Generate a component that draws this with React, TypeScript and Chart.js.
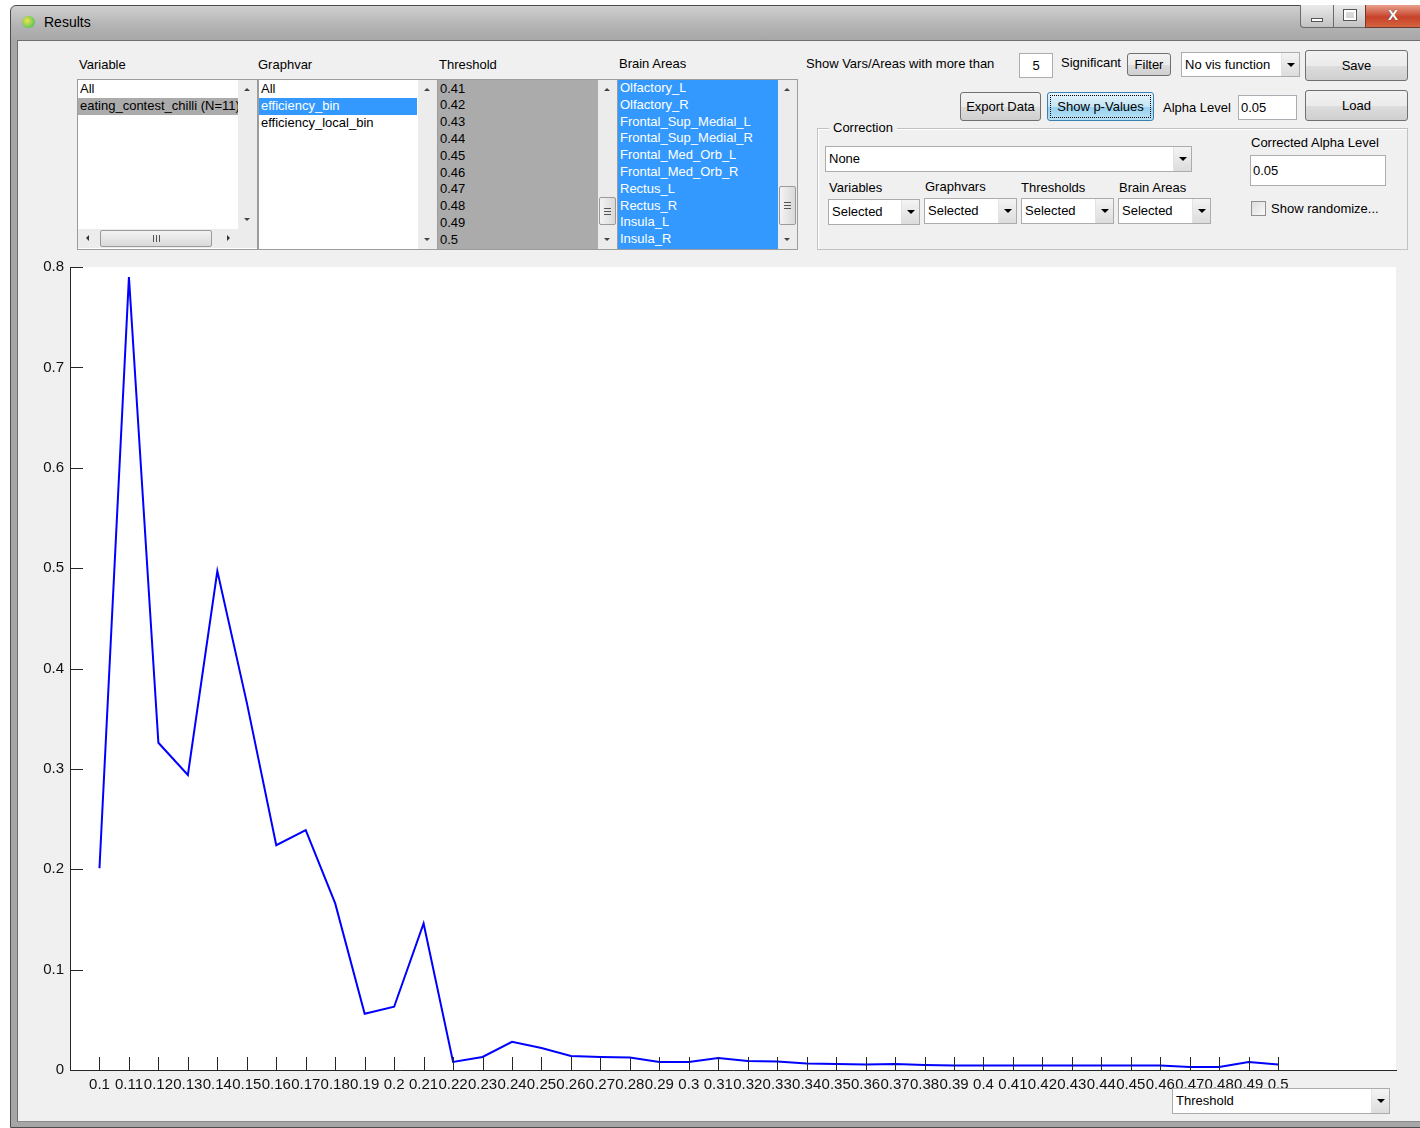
import React, { useEffect, useRef } from "react";
import { Chart, registerables } from "chart.js";

Chart.register(...registerables);

// ---------------- data ----------------
const thresholds = [
  0.1, 0.11, 0.12, 0.13, 0.14, 0.15, 0.16, 0.17, 0.18, 0.19,
  0.2, 0.21, 0.22, 0.23, 0.24, 0.25, 0.26, 0.27, 0.28, 0.29,
  0.3, 0.31, 0.32, 0.33, 0.34, 0.35, 0.36, 0.37, 0.38, 0.39,
  0.4, 0.41, 0.42, 0.43, 0.44, 0.45, 0.46, 0.47, 0.48, 0.49,
  0.5,
];
const xTickLabels = [
  "0.1", "0.11", "0.12", "0.13", "0.14", "0.15", "0.16", "0.17", "0.18", "0.19",
  "0.2", "0.21", "0.22", "0.23", "0.24", "0.25", "0.26", "0.27", "0.28", "0.29",
  "0.3", "0.31", "0.32", "0.33", "0.34", "0.35", "0.36", "0.37", "0.38", "0.39",
  "0.4", "0.41", "0.42", "0.43", "0.44", "0.45", "0.46", "0.47", "0.48", "0.49",
  "0.5",
];
const pValues = [
  0.201, 0.79, 0.326, 0.294, 0.497, 0.366, 0.224, 0.239, 0.166, 0.056,
  0.063, 0.146, 0.008, 0.013, 0.028, 0.022, 0.014, 0.013, 0.0125, 0.008,
  0.008, 0.012, 0.009, 0.0085, 0.0065, 0.006, 0.0055, 0.006, 0.005, 0.0045,
  0.0045, 0.0045, 0.0045, 0.0045, 0.0045, 0.0045, 0.0045, 0.003, 0.003, 0.008,
  0.0055,
];
const yTickValues = [0, 0.1, 0.2, 0.3, 0.4, 0.5, 0.6, 0.7, 0.8];
const yTickLabels = ["0", "0.1", "0.2", "0.3", "0.4", "0.5", "0.6", "0.7", "0.8"];

const variableItems = ["All", "eating_contest_chilli (N=11)"];
const graphvarItems = ["All", "efficiency_bin", "efficiency_local_bin"];
const thresholdItems = ["0.41", "0.42", "0.43", "0.44", "0.45", "0.46", "0.47", "0.48", "0.49", "0.5"];
const brainAreaItems = [
  "Olfactory_L", "Olfactory_R", "Frontal_Sup_Medial_L", "Frontal_Sup_Medial_R",
  "Frontal_Med_Orb_L", "Frontal_Med_Orb_R", "Rectus_L", "Rectus_R", "Insula_L", "Insula_R",
];

// ---------------- ui helpers ----------------
const FONT = "'Liberation Sans', Arial, sans-serif";
const ROW = 16.8;

type BoxProps = { x: number; y: number; w: number; h: number; style?: React.CSSProperties; children?: React.ReactNode };
const Box = ({ x, y, w, h, style, children }: BoxProps) => (
  <div style={{ position: "absolute", left: x, top: y, width: w, height: h, boxSizing: "border-box", ...style }}>{children}</div>
);

const Label = ({ x, cy, text, size = 13, color = "#000" }: { x: number; cy: number; text: string; size?: number; color?: string }) => (
  <div style={{ position: "absolute", left: x, top: cy - 8, height: 16, lineHeight: "16px", fontSize: size, whiteSpace: "nowrap", color }}>{text}</div>
);

const Tri = ({ down = true, color = "#000", size = 4 }: { down?: boolean; color?: string; size?: number }) => (
  <div
    style={{
      width: 0, height: 0,
      borderLeft: `${size}px solid transparent`,
      borderRight: `${size}px solid transparent`,
      ...(down ? { borderTop: `${size}px solid ${color}` } : { borderBottom: `${size}px solid ${color}` }),
    }}
  />
);
const TriH = ({ left = true, color = "#333", size = 4 }: { left?: boolean; color?: string; size?: number }) => (
  <div
    style={{
      width: 0, height: 0,
      borderTop: `${size}px solid transparent`,
      borderBottom: `${size}px solid transparent`,
      ...(left ? { borderRight: `${size}px solid ${color}` } : { borderLeft: `${size}px solid ${color}` }),
    }}
  />
);

const Button = ({ x, y, w, h, text, focused = false }: { x: number; y: number; w: number; h: number; text: string; focused?: boolean }) => (
  <Box
    x={x} y={y} w={w} h={h}
    style={{
      border: focused ? "1px solid #3c7fb1" : "1px solid #707070",
      borderRadius: 3,
      background: focused
        ? "linear-gradient(#e5f4fc 0%, #c4e5f6 50%, #98d1ef 51%, #b6e0f4 100%)"
        : "linear-gradient(#f2f2f2 0%, #ebebeb 50%, #dddddd 51%, #cfcfcf 100%)",
      display: "flex", alignItems: "center", justifyContent: "center", fontSize: 13,
    }}
  >
    {focused && <div style={{ position: "absolute", left: 2, top: 2, right: 2, bottom: 2, border: "1px dotted #000" }} />}
    <span style={{ position: "relative" }}>{text}</span>
  </Box>
);

const Edit = ({ x, y, w, h, text, center = false }: { x: number; y: number; w: number; h: number; text: string; center?: boolean }) => (
  <Box x={x} y={y} w={w} h={h} style={{ background: "#fff", border: "1px solid #abadb3", fontSize: 13, lineHeight: `${h - 2}px`, paddingLeft: center ? 0 : 2, textAlign: center ? "center" : "left" }}>
    {text}
  </Box>
);

const Popup = ({ x, y, w, h, text }: { x: number; y: number; w: number; h: number; text: string }) => (
  <Box x={x} y={y} w={w} h={h} style={{ background: "#fff", border: "1px solid #acacac" }}>
    <div style={{ position: "absolute", left: 3, top: 0, lineHeight: `${h - 2}px`, fontSize: 13, whiteSpace: "nowrap" }}>{text}</div>
    <div
      style={{
        position: "absolute", right: 0, top: 0, width: 17, height: h - 2,
        background: "linear-gradient(#f4f4f4, #dcdcdc)", borderLeft: "1px solid #e3e3e3",
        display: "flex", alignItems: "center", justifyContent: "center",
      }}
    >
      <Tri down size={4} />
    </div>
  </Box>
);

const Thumb = ({ x, y, w, h, horizontal = false }: { x: number; y: number; w: number; h: number; horizontal?: boolean }) => (
  <Box
    x={x} y={y} w={w} h={h}
    style={{
      border: "1px solid #9a9a9a", borderRadius: 2,
      background: horizontal ? "linear-gradient(#f3f3f3, #d9d9d9)" : "linear-gradient(90deg, #f3f3f3, #d9d9d9)",
      display: "flex", alignItems: "center", justifyContent: "center",
    }}
  >
    <div style={{ display: "flex", flexDirection: horizontal ? "row" : "column", gap: 2 }}>
      {[0, 1, 2].map((i) => (
        <div key={i} style={horizontal ? { width: 1, height: 7, background: "#555" } : { width: 7, height: 1, background: "#555" }} />
      ))}
    </div>
  </Box>
);

const VScroll = ({ x, y, h, thumb }: { x: number; y: number; h: number; thumb?: [number, number] }) => (
  <Box x={x} y={y} w={19} h={h} style={{ background: "#ececec" }}>
    <div style={{ position: "absolute", left: 6, top: 8 }}><Tri down={false} color="#444" size={3.5} /></div>
    <div style={{ position: "absolute", left: 6, bottom: 8 }}><Tri down color="#444" size={3.5} /></div>
    {thumb && <Thumb x={1} y={thumb[0] - y} w={17} h={thumb[1]} />}
  </Box>
);

const ListItems = ({ x, y, items, color = "#000", selected = -1, selColor = "", selText = "#fff", selW = 0 }: { x: number; y: number; items: string[]; color?: string; selected?: number; selColor?: string; selText?: string; selW?: number }) => (
  <>
    {items.map((t, i) => (
      <div
        key={t}
        style={{
          position: "absolute", left: x, top: y + i * ROW, height: ROW, width: selW || undefined,
          lineHeight: `${ROW}px`, fontSize: 13, whiteSpace: "nowrap", overflow: "hidden",
          color: i === selected ? selText : color, paddingLeft: 2, boxSizing: "border-box",
          background: i === selected ? selColor : "transparent",
        }}
      >
        {t}
      </div>
    ))}
  </>
);

// ---------------- chart ----------------
const ChartPanel = () => {
  const ref = useRef<HTMLCanvasElement | null>(null);
  useEffect(() => {
    if (!ref.current) return;
    const bgPlugin = {
      id: "plotBg",
      beforeDraw(chart: any) {
        const { ctx, chartArea } = chart;
        ctx.save();
        ctx.fillStyle = "#ffffff";
        ctx.fillRect(chartArea.left, chartArea.top, chartArea.right - chartArea.left, chartArea.bottom - chartArea.top);
        ctx.restore();
      },
    };
    const inwardTicks = {
      id: "inwardTicks",
      afterDatasetsDraw(chart: any) {
        const { ctx, chartArea, scales } = chart;
        const xs = scales.x;
        const ys = scales.y;
        ctx.save();
        ctx.strokeStyle = "#262626";
        ctx.lineWidth = 1;
        ctx.beginPath();
        xs.ticks.forEach((t: any) => {
          const px = Math.round(xs.getPixelForValue(t.value)) + 0.5;
          ctx.moveTo(px, chartArea.bottom);
          ctx.lineTo(px, chartArea.bottom - 13);
        });
        ys.ticks.forEach((t: any) => {
          const py = Math.round(ys.getPixelForValue(t.value)) + 0.5;
          ctx.moveTo(chartArea.left, py);
          ctx.lineTo(chartArea.left + 13, py);
        });
        ctx.stroke();
        ctx.restore();
      },
    };
    const chart = new Chart(ref.current, {
      type: "line",
      data: {
        datasets: [
          {
            data: thresholds.map((_, i) => ({ x: i, y: pValues[i] })),
            borderColor: "#0000ff",
            borderWidth: 2,
            pointRadius: 0,
            tension: 0,
            fill: false,
          },
        ],
      },
      options: {
        animation: false,
        responsive: false,
        maintainAspectRatio: false,
        layout: { padding: { left: 0, right: 24, top: 17, bottom: 10 } },
        plugins: { legend: { display: false }, tooltip: { enabled: false } },
        scales: {
          x: {
            type: "linear",
            min: -1,
            max: 44,
            afterBuildTicks: (s: any) => {
              s.ticks = thresholds.map((_, i) => ({ value: i }));
            },
            afterFit: (s: any) => {
              s.height = 30;
            },
            ticks: {
              autoSkip: false,
              maxRotation: 0,
              minRotation: 0,
              padding: 6,
              color: "#111",
              font: { family: FONT, size: 15 },
              callback: (v: any) => xTickLabels[Math.round(v)] ?? "",
            },
            grid: { display: false, drawTicks: false },
            border: { display: true, color: "#262626", width: 1 },
          },
          y: {
            type: "linear",
            min: 0,
            max: 0.8,
            afterBuildTicks: (s: any) => {
              s.ticks = yTickValues.map((v) => ({ value: v }));
            },
            afterFit: (s: any) => {
              s.width = 70;
            },
            ticks: {
              padding: 6,
              color: "#111",
              font: { family: FONT, size: 15 },
              callback: (v: any) => {
                const i = yTickValues.findIndex((t) => Math.abs(t - v) < 1e-9);
                return i >= 0 ? yTickLabels[i] : "";
              },
            },
            grid: { display: false, drawTicks: false },
            border: { display: true, color: "#262626", width: 1 },
          },
        },
      },
      plugins: [bgPlugin, inwardTicks],
    });
    return () => chart.destroy();
  }, []);
  return <canvas ref={ref} width={1420} height={860} style={{ position: "absolute", left: 0, top: 250, width: 1420, height: 860 }} />;
};

// ---------------- app ----------------
export default function App() {
  return (
    <div style={{ position: "fixed", left: 0, top: 0, width: 1420, height: 1128, background: "#ffffff", overflow: "hidden", fontFamily: FONT, fontSize: 13, color: "#000" }}>
      {/* window frame */}
      <Box x={10} y={5} w={1420} h={1123} style={{ background: "linear-gradient(#cfcfcf 0px, #b3b3b3 20px, #a6a6a6 36px, #a6a6a6 100%)", border: "1px solid #4d4d4d", borderRadius: "6px 0 0 0" }} />
      {/* title */}
      <div style={{ position: "absolute", left: 22, top: 16, width: 13, height: 12, borderRadius: 6, background: "radial-gradient(circle at 40% 40%, #f4e04a 0%, #7ccf5a 55%, #4aa84a 100%)" }} />
      <Label x={44} cy={22} text="Results" size={14} />
      {/* window controls */}
      <Box x={1300} y={5} w={34} h={23} style={{ background: "linear-gradient(#eaeaea, #c2c2c2)", border: "1px solid #6b6b6b", borderRadius: "0 0 0 4px", borderTop: "none" }}>
        <div style={{ position: "absolute", left: 10, top: 13, width: 12, height: 4, background: "#fff", border: "1px solid #555", boxSizing: "border-box" }} />
      </Box>
      <Box x={1333} y={5} w={33} h={23} style={{ background: "linear-gradient(#eaeaea, #c2c2c2)", border: "1px solid #6b6b6b", borderTop: "none" }}>
        <div style={{ position: "absolute", left: 10, top: 5, width: 12, height: 10, border: "2px solid #fff", outline: "1px solid #555", boxSizing: "border-box" }} />
      </Box>
      <Box x={1365} y={5} w={60} h={23} style={{ background: "linear-gradient(#e8a08c, #c7422a 55%, #d5643f)", border: "1px solid #6b3a30", borderTop: "none" }}>
        <div style={{ position: "absolute", left: 22, top: 1, color: "#fff", fontWeight: "bold", fontSize: 15, textShadow: "0 0 1px #333" }}>X</div>
      </Box>
      {/* client */}
      <Box x={17} y={40} w={1403} h={1082} style={{ background: "#f0f0f0", borderTop: "1px solid #6f6f6f", borderLeft: "1px solid #6f6f6f", borderBottom: "1px solid #8a8a8a" }} />

      {/* column labels */}
      <Label x={79} cy={65} text="Variable" />
      <Label x={258} cy={65} text="Graphvar" />
      <Label x={439} cy={65} text="Threshold" />
      <Label x={619} cy={64} text="Brain Areas" />

      {/* variable listbox */}
      <Box x={77} y={79} w={181} h={171} style={{ background: "#fff", border: "1px solid #9c9c9c" }} />
      <ListItems x={78} y={81} items={variableItems} selected={1} selColor="#ababab" selText="#000" selW={160} />
      <VScroll x={238} y={80} h={149} />
      <Box x={78} y={229} w={160} h={19} style={{ background: "#ececec" }}>
        <div style={{ position: "absolute", left: 8, top: 6 }}><TriH left size={3.5} /></div>
        <div style={{ position: "absolute", right: 8, top: 6 }}><TriH left={false} size={3.5} /></div>
        <Thumb x={22} y={1} w={112} h={17} horizontal />
      </Box>
      <Box x={238} y={229} w={19} h={19} style={{ background: "#ececec" }} />

      {/* graphvar listbox */}
      <Box x={258} y={79} w={180} h={171} style={{ background: "#fff", border: "1px solid #9c9c9c" }} />
      <ListItems x={259} y={81} items={graphvarItems} selected={1} selColor="#3399ff" selW={158} />
      <VScroll x={418} y={80} h={169} />

      {/* threshold listbox */}
      <Box x={437} y={79} w={181} h={171} style={{ background: "#ababab", border: "1px solid #9c9c9c" }} />
      <ListItems x={438} y={80.5} items={thresholdItems} />
      <VScroll x={598} y={80} h={169} thumb={[197, 28]} />

      {/* brain areas listbox */}
      <Box x={617} y={79} w={181} h={171} style={{ background: "#3399ff", border: "1px solid #9c9c9c" }} />
      <ListItems x={618} y={80} items={brainAreaItems} color="#ffffff" />
      <VScroll x={778} y={80} h={169} thumb={[186, 39]} />

      {/* right controls */}
      <Label x={806} cy={64} text="Show Vars/Areas with more than" />
      <Edit x={1019} y={53} w={34} h={25} text="5" center />
      <Label x={1061} cy={63} text="Significant" />
      <Button x={1127} y={53} w={44} h={23} text="Filter" />
      <Popup x={1181} y={52} w={119} h={25} text="No vis function" />
      <Button x={1305} y={50} w={103} h={31} text="Save" />

      <Button x={960} y={92} w={81} h={29} text="Export Data" />
      <Button x={1047} y={92} w={107} h={29} text="Show p-Values" focused />
      <Label x={1163} cy={108} text="Alpha Level" />
      <Edit x={1238} y={95} w={59} h={25} text="0.05" />
      <Button x={1305} y={90} w={103} h={31} text="Load" />

      {/* correction group */}
      <Box x={817} y={128} w={591} h={122} style={{ border: "1px solid #c2c2c2", boxShadow: "inset 1px 1px 0 #ffffff" }} />
      <div style={{ position: "absolute", left: 829, top: 120, padding: "0 4px", height: 16, lineHeight: "16px", background: "#f0f0f0", fontSize: 13 }}>Correction</div>
      <Popup x={825} y={146} w={367} h={26} text="None" />
      <Label x={1251} cy={143} text="Corrected Alpha Level" />
      <Edit x={1250} y={155} w={136} h={31} text="0.05" />
      <Label x={829} cy={188} text="Variables" />
      <Label x={925} cy={187} text="Graphvars" />
      <Label x={1021} cy={188} text="Thresholds" />
      <Label x={1119} cy={188} text="Brain Areas" />
      <Popup x={828} y={199} w={92} h={26} text="Selected" />
      <Popup x={924} y={198} w={93} h={26} text="Selected" />
      <Popup x={1021} y={198} w={93} h={26} text="Selected" />
      <Popup x={1118} y={198} w={93} h={26} text="Selected" />
      <Box x={1251} y={201} w={15} h={15} style={{ border: "1px solid #8f8f8f", background: "linear-gradient(135deg, #dcdcdc, #fafafa)" }} />
      <Label x={1271} cy={209} text="Show randomize..." />

      <ChartPanel />

      {/* bottom popup */}
      <Popup x={1172} y={1088} w={218} h={26} text="Threshold" />
    </div>
  );
}
